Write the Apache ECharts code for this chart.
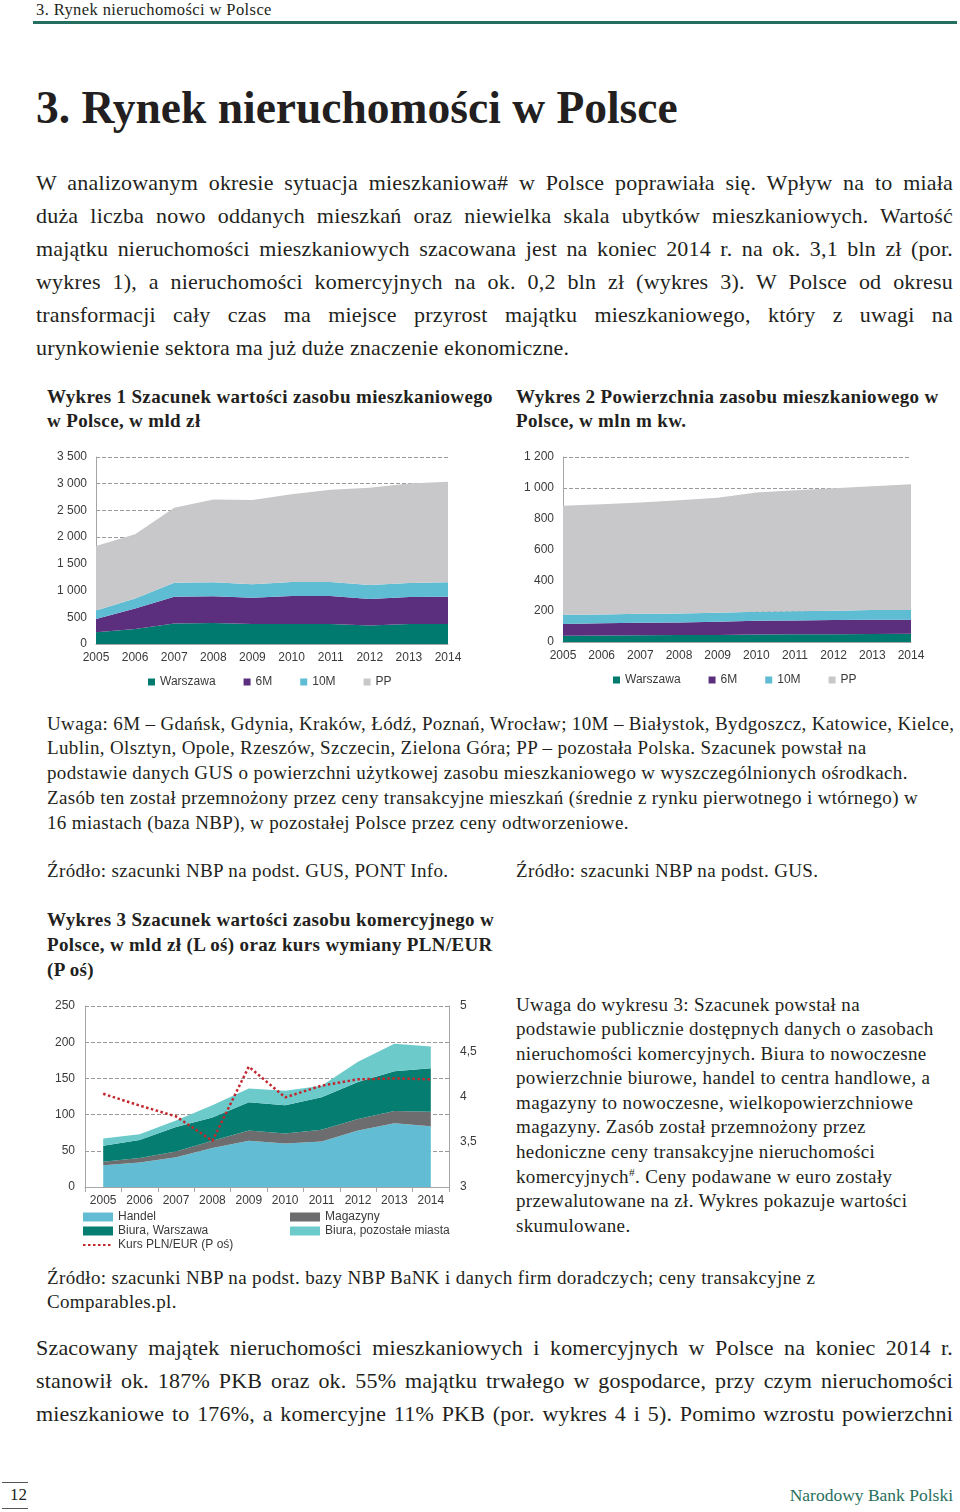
<!DOCTYPE html>
<html><head><meta charset="utf-8">
<script src="https://cdn.jsdelivr.net/npm/echarts@6/dist/echarts.min.js"></script>
<style>
body{margin:0;background:#fff;}
#page{position:relative;width:960px;height:1512px;overflow:hidden;font-family:"Liberation Serif",serif;color:#231f20;background:#fff;}
.abs{position:absolute;white-space:nowrap;}
.t{font-size:19px;letter-spacing:0.35px;}
.jb{position:absolute;font-size:22px;letter-spacing:0.2px;}
.jb div{text-align:justify;text-align-last:justify;white-space:normal;}
.jb div.last{text-align-last:left;}
.chart{position:absolute;}
sup{font-size:60%;line-height:0;}
</style>
</head>
<body>
<div id="page">
  <div class="abs" style="left:36px;top:0px;font-size:16.5px;letter-spacing:0.4px;line-height:20px;">3. Rynek nieruchomości w Polsce</div>
  <div class="abs" style="left:33px;top:21px;width:924px;height:3px;background:#246f5f;"></div>

  <div class="abs" style="left:36px;top:80px;font-size:45.5px;line-height:56px;font-weight:bold;">3. Rynek nieruchomości w Polsce</div>

  <div class="jb" style="left:36px;top:166px;width:917px;line-height:33.1px;">
    <div>W analizowanym okresie sytuacja mieszkaniowa# w Polsce poprawiała się. Wpływ na to miała</div>
    <div>duża liczba nowo oddanych mieszkań oraz niewielka skala ubytków mieszkaniowych. Wartość</div>
    <div>majątku nieruchomości mieszkaniowych szacowana jest na koniec 2014 r. na ok. 3,1 bln zł (por.</div>
    <div>wykres 1), a nieruchomości komercyjnych na ok. 0,2 bln zł (wykres 3). W Polsce od okresu</div>
    <div>transformacji cały czas ma miejsce przyrost majątku mieszkaniowego, który z uwagi na</div>
    <div class="last">urynkowienie sektora ma już duże znaczenie ekonomiczne.</div>
  </div>

  <div class="abs t" style="left:47px;top:385px;line-height:24px;font-weight:bold;">Wykres 1 Szacunek wartości zasobu mieszkaniowego<br>w Polsce, w mld zł</div>
  <div class="abs t" style="left:516px;top:385px;line-height:24px;font-weight:bold;">Wykres 2 Powierzchnia zasobu mieszkaniowego w<br>Polsce, w mln m kw.</div>

  <div id="c1" class="chart" style="left:40px;top:440px;width:430px;height:260px;"></div>
  <div id="c2" class="chart" style="left:510px;top:440px;width:440px;height:260px;"></div>

  <div class="abs t" style="left:47px;top:711.6px;line-height:24.75px;">
    Uwaga: 6M – Gdańsk, Gdynia, Kraków, Łódź, Poznań, Wrocław; 10M – Białystok, Bydgoszcz, Katowice, Kielce,<br>
    Lublin, Olsztyn, Opole, Rzeszów, Szczecin, Zielona Góra; PP – pozostała Polska. Szacunek powstał na<br>
    podstawie danych GUS o powierzchni użytkowej zasobu mieszkaniowego w wyszczególnionych ośrodkach.<br>
    Zasób ten został przemnożony przez ceny transakcyjne mieszkań (średnie z rynku pierwotnego i wtórnego) w<br>
    16 miastach (baza NBP), w pozostałej Polsce przez ceny odtworzeniowe.
  </div>

  <div class="abs t" style="left:47px;top:859px;line-height:24px;">Źródło: szacunki NBP na podst. GUS, PONT Info.</div>
  <div class="abs t" style="left:516px;top:859px;line-height:24px;">Źródło: szacunki NBP na podst. GUS.</div>

  <div class="abs t" style="left:47px;top:906.5px;line-height:25px;font-weight:bold;">Wykres 3 Szacunek wartości zasobu komercyjnego w<br>Polsce, w mld zł (L oś) oraz kurs wymiany PLN/EUR<br>(P oś)</div>

  <div id="c3" class="chart" style="left:40px;top:990px;width:450px;height:270px;"></div>

  <div class="abs t" style="left:516px;top:992.7px;line-height:24.55px;">
    Uwaga do wykresu 3: Szacunek powstał na<br>
    podstawie publicznie dostępnych danych o zasobach<br>
    nieruchomości komercyjnych. Biura to nowoczesne<br>
    powierzchnie biurowe, handel to centra handlowe, a<br>
    magazyny to nowoczesne, wielkopowierzchniowe<br>
    magazyny. Zasób został przemnożony przez<br>
    hedoniczne ceny transakcyjne nieruchomości<br>
    komercyjnych<sup>#</sup>. Ceny podawane w euro zostały<br>
    przewalutowane na zł. Wykres pokazuje wartości<br>
    skumulowane.
  </div>

  <div class="abs t" style="left:47px;top:1265.7px;line-height:24.5px;">Źródło: szacunki NBP na podst. bazy NBP BaNK i danych firm doradczych; ceny transakcyjne z<br>Comparables.pl.</div>

  <div class="jb" style="left:36px;top:1330.5px;width:917px;line-height:33px;">
    <div>Szacowany majątek nieruchomości mieszkaniowych i komercyjnych w Polsce na koniec 2014 r.</div>
    <div>stanowił ok. 187% PKB oraz ok. 55% majątku trwałego w gospodarce, przy czym nieruchomości</div>
    <div>mieszkaniowe to 176%, a komercyjne 11% PKB (por. wykres 4 i 5). Pomimo wzrostu powierzchni</div>
  </div>

  <div class="abs" style="left:2px;top:1482px;width:26px;height:1px;background:#555;"></div>
  <div class="abs" style="left:10px;top:1484px;font-size:17px;line-height:22px;">12</div>
  <div class="abs" style="left:2px;top:1508px;width:26px;height:1px;background:#555;"></div>
  <div class="abs" style="right:7px;top:1483px;font-size:17.5px;line-height:24px;color:#2a6f5c;">Narodowy Bank Polski</div>
</div>

<script>
// ---- data ----
const years = ['2005','2006','2007','2008','2009','2010','2011','2012','2013','2014'];

// Wykres 1: mld zł
const c1Warszawa = [220, 280, 385, 395, 375, 375, 375, 345, 375, 375];
const c1M6       = [250, 385, 500, 500, 490, 525, 525, 495, 505, 510];
const c1M10      = [155, 185, 260, 260, 255, 260, 260, 265, 260, 270];
const c1PP       = [1208, 1202, 1407, 1551, 1575, 1644, 1725, 1818, 1862, 1880];

// Wykres 2: mln m kw.
const c2Warszawa = [40, 42, 43, 45, 46, 48, 50, 51, 52, 53];
const c2M6       = [76, 79, 82, 82, 85, 90, 90, 91, 92, 91];
const c2M10      = [61, 58, 58, 58, 59, 58, 60, 61, 63, 63];
const c2PP       = [707, 715, 722, 735, 745, 774, 785, 795, 804, 817];

// Wykres 3: mld zł (L oś), kurs PLN/EUR (P oś)
const c3Handel   = [30, 34, 41, 54, 64, 60, 63, 78, 88, 84];
const c3Magazyny = [5, 6, 8, 10, 14, 14, 16, 16, 17, 20];
const c3BiuraW   = [22, 25, 34, 32, 39, 39, 45, 51, 55, 60];
const c3BiuraP   = [10, 8, 9, 17, 19, 20, 16, 28, 38, 30];
const c3Kurs     = [4.03, 3.90, 3.78, 3.51, 4.33, 3.99, 4.12, 4.19, 4.20, 4.19];

// ---- styles ----
const FONT = 'Liberation Sans, Arial, sans-serif';
const LBL = '#3a3a3a';
const AX = '#a6a6a6';
const sp = v => String(v).replace(/\B(?=(\d{3})+(?!\d))/g, ' ');
const comma = v => String(v).replace('.', ',');

function area(name, data, color, stack) {
  return {name, type:'line', stack, data, symbol:'none', showSymbol:false,
    lineStyle:{width:0}, itemStyle:{color}, areaStyle:{color, opacity:1}, emphasis:{disabled:true}};
}

function housingOption(grid, max, interval, legendLeft, legendTop, d) {
  return {
    animation:false,
    grid: Object.assign({outerBoundsMode:'none', containLabel:false}, grid),
    legend:{left:legendLeft, top:legendTop, itemWidth:7, itemHeight:7, itemGap:28, icon:'rect',
      textStyle:{fontFamily:FONT, fontSize:12, color:LBL}, padding:0,
      data:['Warszawa','6M','10M','PP']},
    xAxis:{type:'category', data:years, boundaryGap:false,
      axisLine:{lineStyle:{color:AX}}, axisTick:{show:false},
      axisLabel:{fontFamily:FONT, fontSize:12, color:LBL, margin:8}},
    yAxis:{type:'value', min:0, max, interval,
      axisLine:{show:true, lineStyle:{color:AX}}, axisTick:{show:false},
      axisLabel:{fontFamily:FONT, fontSize:12, color:LBL, margin:9, formatter:sp},
      splitLine:{show:true, lineStyle:{type:'dashed', color:'#9a9a9a'}}},
    series:[
      area('Warszawa', d[0], '#007a6e', 'a'),
      area('6M', d[1], '#5c2e7e', 'a'),
      area('10M', d[2], '#5ebcd3', 'a'),
      area('PP', d[3], '#c8c8ca', 'a')
    ]
  };
}

const ch1 = echarts.init(document.getElementById('c1'), null, {renderer:'canvas'});
ch1.setOption(housingOption({left:56, right:22, top:17, bottom:56}, 3500, 500, 108, 236,
  [c1Warszawa, c1M6, c1M10, c1PP]));

const ch2 = echarts.init(document.getElementById('c2'), null, {renderer:'canvas'});
ch2.setOption(housingOption({left:53, right:39, top:17, bottom:58}, 1200, 200, 103, 234,
  [c2Warszawa, c2M6, c2M10, c2PP]));

const ch3 = echarts.init(document.getElementById('c3'), null, {renderer:'canvas'});
ch3.setOption({
  animation:false,
  grid:{left:45, right:41, top:16, bottom:73, outerBoundsMode:'none', containLabel:false},
  legend:[
    {orient:'vertical', left:42, top:220, itemWidth:30, itemHeight:9, itemGap:0, padding:0,
     textStyle:{fontFamily:FONT, fontSize:12, color:LBL, lineHeight:14},
     data:[{name:'Handel', icon:'rect'}, {name:'Biura, Warszawa', icon:'rect'},
           {name:'Kurs PLN/EUR (P oś)', itemStyle:{opacity:0}}]},
    {orient:'vertical', left:250, top:220, itemWidth:30, itemHeight:9, itemGap:0, padding:0,
     textStyle:{fontFamily:FONT, fontSize:12, color:LBL, lineHeight:14},
     data:[{name:'Magazyny', icon:'rect'}, {name:'Biura, pozostałe miasta', icon:'rect'}]}
  ],
  xAxis:{type:'category', data:years, boundaryGap:true,
    axisLine:{lineStyle:{color:AX}}, axisTick:{show:true, length:5, lineStyle:{color:AX}},
    axisLabel:{fontFamily:FONT, fontSize:12, color:LBL, margin:8}},
  yAxis:[
    {type:'value', min:0, max:250, interval:50,
     axisLine:{show:true, lineStyle:{color:AX}}, axisTick:{show:false},
     axisLabel:{fontFamily:FONT, fontSize:12, color:LBL, margin:10},
     splitLine:{show:true, lineStyle:{type:'dashed', color:'#9a9a9a'}}},
    {type:'value', min:3, max:5, interval:0.5, position:'right',
     axisLine:{show:true, lineStyle:{color:AX}}, axisTick:{show:false},
     axisLabel:{fontFamily:FONT, fontSize:12, color:LBL, margin:11, formatter:comma},
     splitLine:{show:false}}
  ],
  series:[
    area('Handel', c3Handel, '#62bdd4', 'k'),
    area('Magazyny', c3Magazyny, '#6d6d6f', 'k'),
    area('Biura, Warszawa', c3BiuraW, '#067d71', 'k'),
    area('Biura, pozostałe miasta', c3BiuraP, '#6dcacb', 'k'),
    {name:'Kurs PLN/EUR (P oś)', type:'line', yAxisIndex:1, data:c3Kurs, symbol:'none',
     lineStyle:{color:'#c1272d', width:2.5, type:[2.5,2.5]}, itemStyle:{color:'#c1272d'}, z:5}
  ]
});
</script>
</body></html>
